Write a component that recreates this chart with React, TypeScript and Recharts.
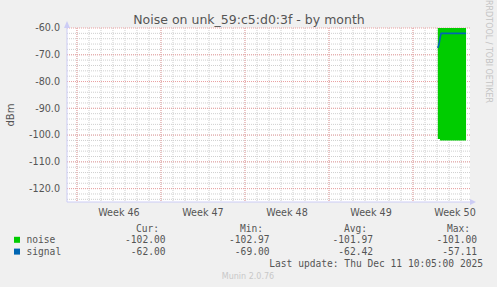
import React from 'react';
import { ComposedChart, Area, Line, XAxis, YAxis, CartesianGrid } from 'recharts';

// time in days from the left edge of the plot
const times = [30.9, 31.0, 31.08, 31.17, 31.5, 32.0, 32.5, 33.0, 33.25];
const noiseValues = [-101.5, -101.5, -102, -102, -102, -102, -102, -102, -102];
const signalValues = [-67.5, -66, -64, -62, -62, -62, -62, -62, -62];

const weekTicks = [4.33, 11.33, 18.33, 25.33, 32.33];
const weekLabels = ['Week 46', 'Week 47', 'Week 48', 'Week 49', 'Week 50'];
const yTicks = [-120, -110, -100, -90, -80, -70, -60];

const weekStarts = [0.83, 7.83, 14.83, 21.83, 28.83];
const dayLines = Array.from({ length: 33 }, (_, k) => 0.83 + k);
const minorY = Array.from({ length: 32 }, (_, k) => -124 + 2 * k);

const legendRows = [
  { name: 'noise', color: '#00cc00', cur: '-102.00', min: '-102.97', avg: '-101.97', max: '-101.00' },
  { name: 'signal', color: '#0066b3', cur: '-62.00', min: '-69.00', avg: '-62.42', max: '-57.11' },
];

const data = times.map((t, i) => ({ t, noise: noiseValues[i], signal: signalValues[i] }));

const W = 497;
const H = 287;
const FONT = "'DejaVu Sans', sans-serif";
const MONO = "'DejaVu Sans Mono', monospace";
const TXT = '#555';

export default function App() {
  return (
    <div style={{ position: 'absolute', left: 0, top: 0, width: W, height: H, background: '#f0f0f0', overflow: 'hidden' }}>
      <ComposedChart width={W} height={H} data={data} margin={{ top: 28, right: 27, bottom: 65, left: 7 }}>
        <CartesianGrid fill="#ffffff" stroke="#cfcfcf" strokeDasharray="1 1"
          horizontalValues={minorY} verticalValues={dayLines} />
        <CartesianGrid fill="none" stroke="#eba0a0" strokeDasharray="1 1"
          horizontalValues={yTicks} verticalValues={weekStarts} />
        <XAxis xAxisId="wk" dataKey="t" type="number" domain={[0, 33.58]} ticks={weekStarts} allowDataOverflow
          tickFormatter={() => ''} tickLine={{ stroke: '#eba0a0' }} tickSize={4} height={0}
          axisLine={false} interval={0} />
        <XAxis dataKey="t" type="number" domain={[0, 33.58]} ticks={weekTicks} allowDataOverflow
          tickFormatter={(v: number) => weekLabels[weekTicks.indexOf(v)] ?? ''}
          tickLine={false} tickSize={0} tickMargin={7} height={20}
          axisLine={{ stroke: '#ccccf5' }}
          tick={{ fill: TXT, fontSize: 9.6, fontFamily: FONT }} interval={0} />
        <YAxis type="number" domain={[-125, -60]} ticks={yTicks} allowDataOverflow
          tickFormatter={(v: number) => v.toFixed(1)}
          tickLine={false} tickSize={0} tickMargin={7} width={60}
          axisLine={{ stroke: '#ccccf5' }}
          tick={{ fill: TXT, fontSize: 9.6, fontFamily: FONT }} interval={0} />
        <Area dataKey="noise" type="stepAfter" fill="#00cc00" fillOpacity={1} stroke="none"
          baseValue={-60} isAnimationActive={false} dot={false} activeDot={false} />
        <Line dataKey="signal" type="linear" stroke="#0066b3" strokeWidth={1.6}
          dot={false} activeDot={false} isAnimationActive={false} />
      </ComposedChart>
      <svg width={W} height={H} style={{ position: 'absolute', left: 0, top: 0, pointerEvents: 'none' }}>
        <polygon points="64,28 70,28 67,21" fill="#ccccf5" />
        <polygon points="470,199 470,205 476,202" fill="#ccccf5" />
        <text x={249} y={24} textAnchor="middle" fontFamily={FONT} fontSize={12.5} fill={TXT}>
          Noise on unk_59:c5:d0:3f - by month
        </text>
        <text x={14} y={115} textAnchor="middle" fontFamily={FONT} fontSize={10} fill={TXT}
          transform="rotate(-90 14 115)">dBm</text>
        <text x={486} y={103} textAnchor="end" fontFamily={FONT} fontSize={8} fill="#c4c4c4"
          transform="rotate(90 486 103)">RRDTOOL / TOBI OETIKER</text>
        <g fontFamily={MONO} fontSize={9.6} fill={TXT}>
          <text x={159} y={231.5} textAnchor="end">Cur:</text>
          <text x={263} y={231.5} textAnchor="end">Min:</text>
          <text x={367} y={231.5} textAnchor="end">Avg:</text>
          <text x={470} y={231.5} textAnchor="end">Max:</text>
          {legendRows.map((r, i) => {
            const y = 243.3 + i * 11.8;
            return (
              <g key={r.name}>
                <rect x={14} y={y - 6.5} width={6} height={6} fill={r.color} />
                <text x={26.5} y={y}>{r.name}</text>
                <text x={165.5} y={y} textAnchor="end">{r.cur}</text>
                <text x={269.5} y={y} textAnchor="end">{r.min}</text>
                <text x={373} y={y} textAnchor="end">{r.avg}</text>
                <text x={477} y={y} textAnchor="end">{r.max}</text>
              </g>
            );
          })}
          <text x={483} y={266.9} textAnchor="end">Last update: Thu Dec 11 10:05:00 2025</text>
        </g>
        <text x={248} y={279} textAnchor="middle" fontFamily={FONT} fontSize={8} fill="#c8c8c8">Munin 2.0.76</text>
      </svg>
    </div>
  );
}
